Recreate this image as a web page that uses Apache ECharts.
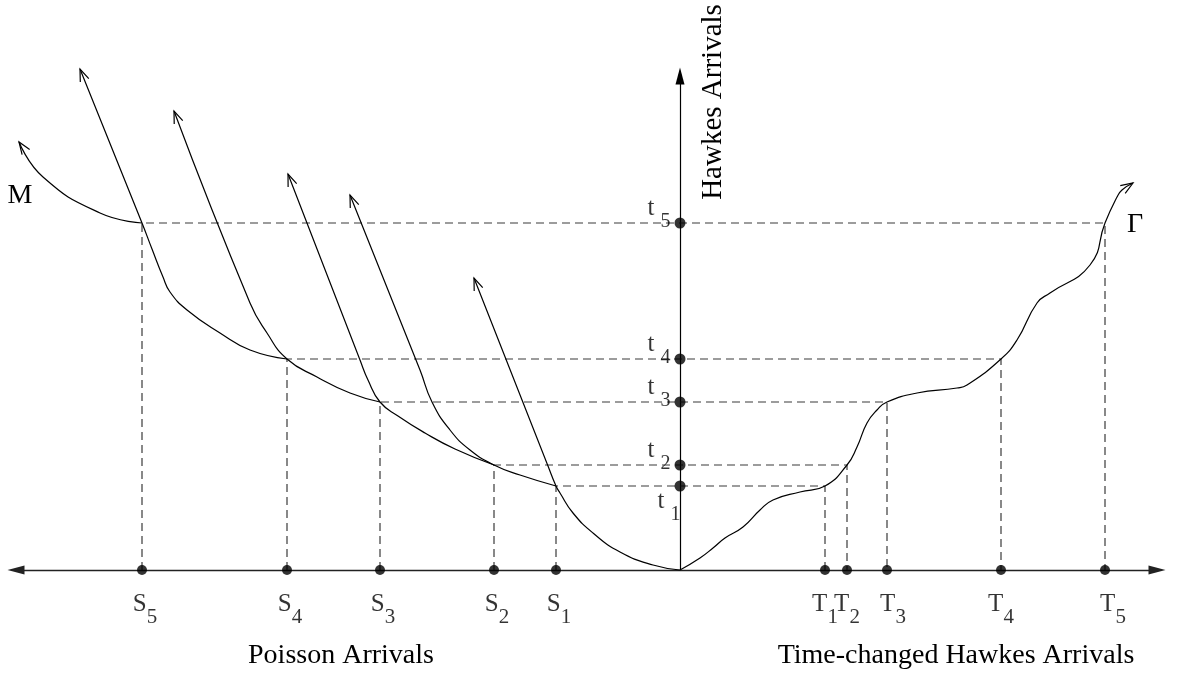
<!DOCTYPE html>
<html><head><meta charset="utf-8">
<script src="https://cdn.jsdelivr.net/npm/echarts@6/dist/echarts.min.js"></script>
<style>html,body{margin:0;padding:0;background:#fff}#c{width:1178px;height:673px}</style>
</head><body><div id="c"></div>
<script>
// ---------- data (abstract time units; origin = 0) ----------
const hawkesTimes     = [8.4, 10.5, 16.8, 21.1, 34.7];        // t1..t5 on vertical axis
const poissonArrivals = [-12.4, -18.6, -30.0, -39.3, -53.8];   // S1..S5 (left half-axis)
const changedArrivals = [14.5, 16.7, 20.7, 32.1, 42.5];        // T1..T5 (right half-axis)
const indexLabels     = ['1', '2', '3', '4', '5'];

// M-curve branches (each ends in an open arrow)
const branch0 = [[0,0],[-2.7,0.5],[-6,1.8],[-8.7,3.7],[-10.7,5.7],[-12,7.7],[-12.4,8.4],[-13.2,10.4],[-20.6,29.2]];
const branch1 = [[-12.4,8.4],[-16,9.5],[-18.6,10.5],[-21,12],[-23,14],[-24.8,16.8],[-26,20],[-33,37.5]];
const branch2 = [[-18.6,10.5],[-22.5,12.1],[-25.5,13.7],[-28.2,15.4],[-30,16.8],[-31.2,19],[-32,21],[-39.2,39.6]];
const branch3 = [[-30,16.8],[-33,17.7],[-36.3,19.3],[-39.3,21.1],[-41.3,23.7],[-43,26.7],[-50.6,45.9]];
const branch4 = [[-39.3,21.1],[-43,22],[-46,23.7],[-49.3,26],[-51,27.8],[-51.7,29.3],[-52.8,32.1],[-53.8,34.7],[-60,50.1]];
const branch5 = [[-53.8,34.7],[-58,35.7],[-63.7,39.3],[-66.1,42.8]];
// Gamma curve (time change)
const gammaCurve = [[0,0],[2,1.2],[3.3,2.2],[4.5,3.2],[6.3,4.3],[8,6],[9.3,7],[12,7.8],[14.5,8.4],[16.7,10.5],
  [17.7,12.3],[18.7,14.7],[19.7,16],[20.7,16.8],[23.7,17.7],[27.7,18.2],[28.7,18.5],[32.1,21.1],[33.7,23],
  [35.7,26.7],[37,27.7],[41,30.5],[42.5,34.7],[43.7,37.3],[44.2,38.0],[45.3,38.7]];

// ---------- layout / style (not data) ----------
const SERIF = '"Liberation Serif","DejaVu Serif",serif';
const T_SHIFT = [0, 0, 6, 0, 8];

const curves = [branch0, branch1, branch2, branch3, branch4, branch5, gammaCurve];
const arrowTips = curves.map(c => { const a = c[c.length-1], b = c[c.length-2]; return [a[0], a[1], b[0], b[1]]; });

const chart = echarts.init(document.getElementById('c'), null, {renderer: 'canvas'});

const series = [];
// dashed projection lines
hawkesTimes.forEach((t, k) => {
  series.push({
    type: 'line', silent: true, symbol: 'none', clip: false, z: 1,
    data: [[poissonArrivals[k], 0], [poissonArrivals[k], t], [changedArrivals[k], t], [changedArrivals[k], 0]],
    lineStyle: {color: '#3a3a3a', width: 1.2, type: [8, 5]}
  });
});
// curves
curves.forEach(c => {
  series.push({
    type: 'line', silent: true, symbol: 'none', clip: false, z: 3, smooth: 0.5,
    data: c, lineStyle: {color: '#000', width: 1.2}
  });
});
// open arrowheads
series.push({
  type: 'custom', coordinateSystem: 'cartesian2d', clip: false, z: 4, silent: true,
  data: arrowTips,
  renderItem(params, api) {
    const tip = api.coord([api.value(0), api.value(1)]);
    const prev = api.coord([api.value(2), api.value(3)]);
    const ang = Math.atan2(tip[1] - prev[1], tip[0] - prev[0]);
    const L = 13, h = 0.36;
    const p1 = [tip[0] - L * Math.cos(ang - h), tip[1] - L * Math.sin(ang - h)];
    const p2 = [tip[0] - L * Math.cos(ang + h), tip[1] - L * Math.sin(ang + h)];
    return {type: 'polyline', shape: {points: [p1, tip, p2]}, style: {stroke: '#000', lineWidth: 1.2, fill: null}};
  }
});
const subRich = (m, s, gap) => ({
  m: {fontFamily: SERIF, fontSize: m, color: '#000', verticalAlign: 'top'},
  s: {fontFamily: SERIF, fontSize: s, color: '#000', lineHeight: 36, verticalAlign: 'bottom', padding: [0, 0, 0, gap]}
});
// S points
series.push({
  type: 'scatter', silent: true, z: 5, symbolSize: 10, itemStyle: {color: '#000'},
  data: poissonArrivals.map(s => [s, 0]),
  label: {show: true, color: '#000', position: 'bottom', distance: 17, offset: [3, 0],
    formatter: p => '{m|S}{s|' + indexLabels[p.dataIndex] + '}', rich: subRich(25, 21, 0)}
});
// T points
series.push({
  type: 'scatter', silent: true, z: 5, symbolSize: 10, itemStyle: {color: '#000'},
  data: changedArrivals.map((x, k) => ({value: [x, 0], label: {offset: [T_SHIFT[k], 0]}})),
  label: {show: true, color: '#000', position: 'bottom', distance: 17,
    formatter: p => '{m|T}{s|' + indexLabels[p.dataIndex] + '}', rich: subRich(25, 21, 0)}
});
// t points on vertical axis
series.push({
  type: 'scatter', silent: true, z: 5, symbolSize: 11, itemStyle: {color: '#000'},
  data: hawkesTimes.map((t, k) => k === 0
    ? {value: [0, t], label: {distance: -6, offset: [0, 21]}}
    : {value: [0, t]}),
  label: {show: true, color: '#000', position: 'left', distance: 4, offset: [0, -9],
    formatter: p => '{m|t}{s|' + indexLabels[p.dataIndex] + '}', rich: subRich(25, 20, 6)}
});

chart.setOption({
  animation: false,
  backgroundColor: '#fff',
  grid: {left: 16, right: 21, top: 76, bottom: 103},
  xAxis: {
    type: 'value', min: -66.4, max: 47.7,
    axisLine: {show: true, onZero: true, symbol: ['triangle', 'triangle'], symbolSize: [9, 17],
      lineStyle: {color: '#222', width: 1.4}},
    axisTick: {show: false}, axisLabel: {show: false}, splitLine: {show: false}
  },
  yAxis: {
    type: 'value', min: 0, max: 49.4,
    axisLine: {show: true, onZero: true, symbol: ['none', 'triangle'], symbolSize: [9, 17],
      lineStyle: {color: '#000', width: 1.2}},
    axisTick: {show: false}, axisLabel: {show: false}, splitLine: {show: false}
  },
  graphic: [
    {type: 'text', x: 713, y: 102, rotation: Math.PI / 2,
      style: {text: 'Hawkes Arrivals', x: 0, y: 0, align: 'center', verticalAlign: 'middle', font: '29px ' + SERIF, fill: '#000'}},
    {type: 'text', x: 341, y: 656,
      style: {text: 'Poisson Arrivals', x: 0, y: 0, align: 'center', verticalAlign: 'middle', font: '28px ' + SERIF, fill: '#000'}},
    {type: 'text', x: 956, y: 656,
      style: {text: 'Time-changed Hawkes Arrivals', x: 0, y: 0, align: 'center', verticalAlign: 'middle', font: '28px ' + SERIF, fill: '#000'}},
    {type: 'text', x: 20, y: 196,
      style: {text: 'M', x: 0, y: 0, align: 'center', verticalAlign: 'middle', font: '28px ' + SERIF, fill: '#000'}},
    {type: 'text', x: 1135, y: 225,
      style: {text: 'Γ', x: 0, y: 0, align: 'center', verticalAlign: 'middle', font: '28px ' + SERIF, fill: '#000'}}
  ],
  series: series
});
</script>
</body></html>
